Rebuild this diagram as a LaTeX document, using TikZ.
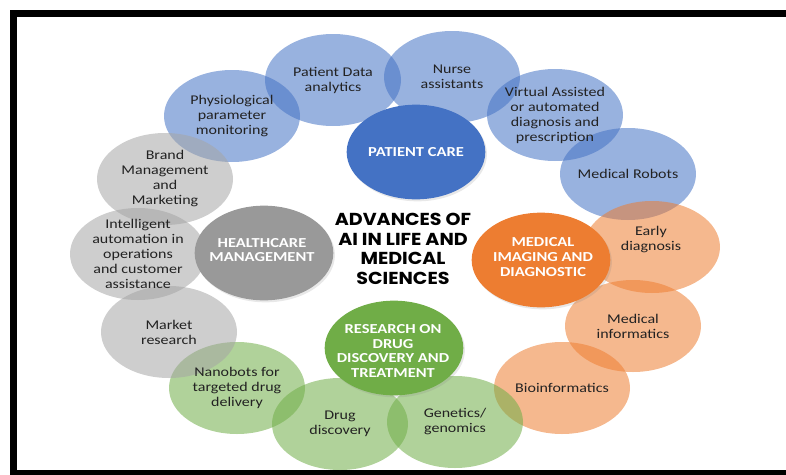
\documentclass[tikz,border=0pt]{standalone}
\usepackage{fontspec}
\setmainfont{Carlito}[FakeStretch=1.2]
\newfontfamily\titlefont{Poppins}[FakeStretch=1.1]
\usetikzlibrary{shapes.geometric, shadows}
\definecolor{accblue}{HTML}{4472C4}
\definecolor{accorange}{HTML}{ED7D31}
\definecolor{accgray}{HTML}{A5A5A5}
\definecolor{hubgray}{HTML}{999999}
\definecolor{accgreen}{HTML}{70AD47}
\definecolor{txtgray}{HTML}{222222}
\begin{document}
\begin{tikzpicture}[x=0.75pt, y=-0.75pt,
  bubble/.style={ellipse, minimum width=102pt, minimum height=69pt, inner sep=0pt, fill opacity=0.55},
  hub/.style={ellipse, minimum width=104pt, minimum height=71pt, inner sep=0pt,
    drop shadow={opacity=0.18, shadow xshift=1.2pt, shadow yshift=-1.5pt}},
  txt/.style={align=center, text=txtgray, font=\fontsize{10}{11.25}\selectfont},
  hubtxt/.style={align=center, text=white, font=\bfseries\fontsize{10.3}{11}\selectfont}]
 \useasboundingbox (0,0) rectangle (786,475);
 \clip (0,0) rectangle (786,475);
 \draw[line width=5.6pt] (800,13.5) -- (13.5,13.5) -- (13.5,474) -- (800,474);
%
 \node[bubble, fill=accblue] (physio) at (232,116) {};
 \node[bubble, fill=accblue] (pdata) at (333,80) {};
 \node[bubble, fill=accblue] (nurse) at (452,77) {};
 \node[bubble, fill=accblue] (virtual) at (555,115) {};
 \node[bubble, fill=accblue] (robots) at (628,174) {};
%
 \node[bubble, fill=accorange] (early) at (652,247) {};
 \node[bubble, fill=accorange] (informatics) at (633,326) {};
 \node[bubble, fill=accorange] (bioinfo) at (562,388) {};
%
 \node[bubble, fill=accgreen] (genetics) at (455,422) {};
 \node[bubble, fill=accgreen] (drug) at (340,424) {};
 \node[bubble, fill=accgreen] (nano) at (237,388) {};
%
 \node[bubble, fill=accgray] (market) at (169,332) {};
 \node[bubble, fill=accgray] (intel) at (138,254) {};
 \node[bubble, fill=accgray] (brand) at (165,179) {};
%
 \node[hub, fill=accblue] (care) at (416,152) {};
 \node[hub, fill=accorange] (imaging) at (541,260) {};
 \node[hub, fill=accgreen] (research) at (394,348) {};
 \node[hub, fill=hubgray] (health) at (264,253) {};
%
 \node[txt] (physio-t) at (physio) {Physiological\\parameter\\monitoring};
 \node[txt] (pdata-t) at (pdata) {Patient Data\\analytics};
 \node[txt] (nurse-t) at (nurse) {Nurse\\assistants};
 \node[txt] (virtual-t) at (virtual) {Virtual Assisted\\or automated\\diagnosis and\\prescription};
 \node[txt] (robots-t) at (robots) {Medical Robots};
 \node[txt] (early-t) at (651,240) {Early\\diagnosis};
 \node[txt] (informatics-t) at (informatics) {Medical\\informatics};
 \node[txt] (bioinfo-t) at (bioinfo) {Bioinformatics};
 \node[txt] (genetics-t) at (genetics) {Genetics/\\genomics};
 \node[txt] (drug-t) at (drug) {Drug\\discovery};
 \node[txt] (nano-t) at (nano) {Nanobots for\\targeted drug\\delivery};
 \node[txt] (market-t) at (market) {Market\\research};
 \node[txt] (intel-t) at (intel) {Intelligent\\automation in\\operations\\and customer\\assistance};
 \node[txt] (brand-t) at (brand) {Brand\\Management\\and\\Marketing};
%
 \node[hubtxt] (care-t) at (care) {PATIENT CARE};
 \node[hubtxt] (imaging-t) at (543,257) {MEDICAL\\IMAGING AND\\DIAGNOSTIC};
 \node[hubtxt] (research-t) at (393,351) {RESEARCH ON\\DRUG\\DISCOVERY AND\\TREATMENT};
 \node[hubtxt] (health-t) at (262,250) {HEALTHCARE\\MANAGEMENT};
%
 \node[align=center, text=black, font=\titlefont\bfseries\fontsize{13}{14.6}\selectfont] (title) at (403,249)
   {ADVANCES OF\\AI IN LIFE AND\\MEDICAL\\SCIENCES};
\end{tikzpicture}
\end{document}
